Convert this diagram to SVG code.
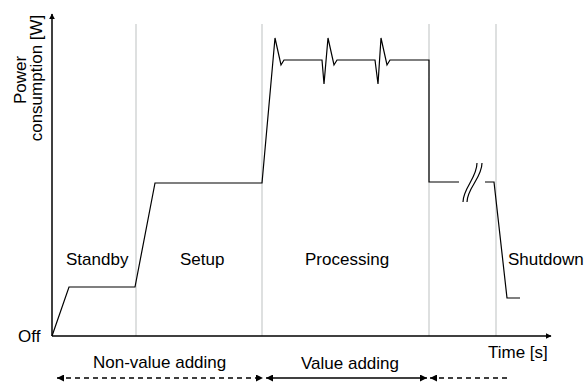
<svg xmlns="http://www.w3.org/2000/svg" width="584" height="387" viewBox="0 0 584 387">
<style>
text{font-family:"Liberation Sans",Arial,sans-serif;font-size:17px;fill:#000}
.grid{stroke:#c8cccc;stroke-width:1.2;fill:none}
.axis{stroke:#000;stroke-width:1.5;fill:none}
.curve{stroke:#000;stroke-width:1.2;fill:none;stroke-linejoin:miter}
.dash{stroke:#000;stroke-width:1.3;fill:none;stroke-dasharray:5 4}
.solid{stroke:#000;stroke-width:1.3;fill:none}
</style>
<defs>
<marker id="ah" viewBox="0 0 10 10" refX="9" refY="5" markerWidth="6" markerHeight="6" markerUnits="userSpaceOnUse" orient="auto-start-reverse"><path d="M0,0 L10,5 L0,10 Z" fill="#000"/></marker>
<marker id="ab" viewBox="0 0 10 10" refX="10" refY="5" markerWidth="7" markerHeight="7" markerUnits="userSpaceOnUse" orient="auto-start-reverse"><path d="M0,0 L10,5 L0,10 Z" fill="#000"/></marker>
</defs>
<g id="grid">
<line class="grid" x1="136" y1="24" x2="136" y2="336"/>
<line class="grid" x1="262" y1="24" x2="262" y2="336"/>
<line class="grid" x1="429" y1="24" x2="429" y2="336"/>
<line class="grid" x1="496" y1="24" x2="496" y2="336"/>
</g>
<g id="axes">
<line class="axis" x1="52" y1="336" x2="52" y2="14" marker-end="url(#ah)"/>
<line class="axis" x1="52" y1="336" x2="551" y2="336" marker-end="url(#ah)"/>
</g>
<g id="curve">
<polyline class="curve" points="52,336 69,287 135,287 155,183 262,183 275,38 281,65 284,60 322,60 324,84 328,38 334,65 337,60 375,60 378,84 381,38 387,65 390,60 429,60 429,182 459,182"/>
<polyline class="curve" points="485,182 494,182 507,298 520,298"/>
<path class="curve" d="M463,202 C463,188 477,178 477,163"/>
<path class="curve" d="M467,202 C467,188 482,178 482,163"/>
</g>
<g id="labels">
<text x="66" y="265">Standby</text>
<text x="180" y="265">Setup</text>
<text x="305" y="265">Processing</text>
<text x="508" y="265">Shutdown</text>
<text x="18" y="342">Off</text>
<text x="488" y="358">Time [s]</text>
<text transform="translate(26,80) rotate(-90)" text-anchor="middle">Power</text>
<text transform="translate(42,78) rotate(-90)" text-anchor="middle">consumption [W]</text>
</g>
<g id="connectors">
<line class="dash" x1="57" y1="378" x2="263" y2="378" marker-start="url(#ab)" marker-end="url(#ab)"/>
<line class="solid" x1="266" y1="378" x2="427" y2="378" marker-start="url(#ab)" marker-end="url(#ab)"/>
<line class="dash" x1="430" y1="378" x2="508" y2="378" marker-start="url(#ab)"/>
</g>
<g id="phase-labels">
<text x="93" y="368">Non-value adding</text>
<text x="301" y="369">Value adding</text>
</g>
</svg>
